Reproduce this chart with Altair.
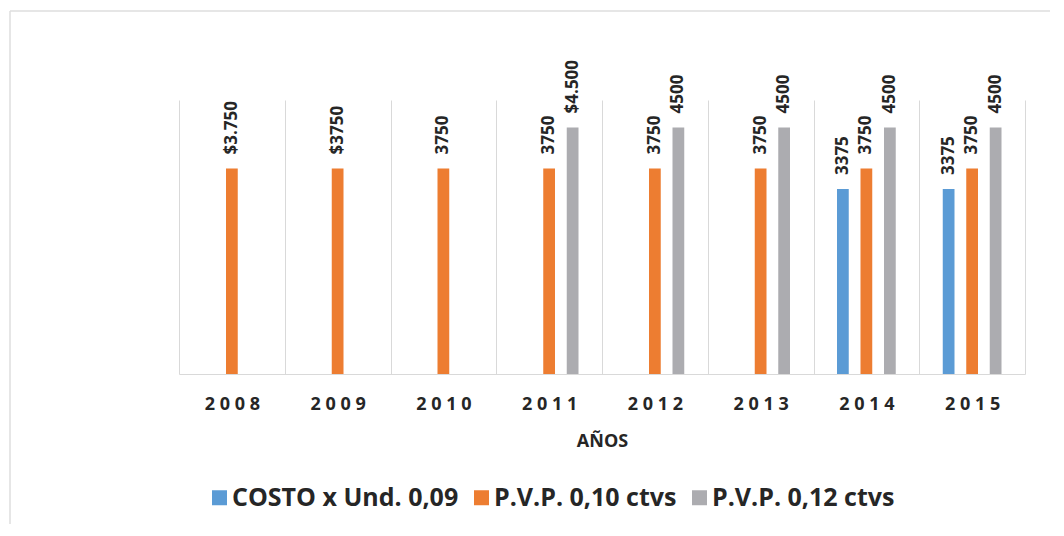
import altair as alt
import pandas as pd

years = ["2008", "2009", "2010", "2011", "2012", "2013", "2014", "2015"]
series = ["COSTO x Und. 0,09", "P.V.P. 0,10 ctvs", "P.V.P. 0,12 ctvs"]
colors = ["#5B9BD5", "#ED7D31", "#ACACB0"]

costo = [None, None, None, None, None, None, 3375, 3375]
pvp10 = [3750, 3750, 3750, 3750, 3750, 3750, 3750, 3750]
pvp12 = [None, None, None, 4500, 4500, 4500, 4500, 4500]

costo_lbl = ["", "", "", "", "", "", "3375", "3375"]
pvp10_lbl = ["$3.750", "$3750", "3750", "3750", "3750", "3750", "3750", "3750"]
pvp12_lbl = ["", "", "", "$4.500", "4500", "4500", "4500", "4500"]

rows = []
for s, vals, lbls in zip(series, [costo, pvp10, pvp12], [costo_lbl, pvp10_lbl, pvp12_lbl]):
    for y, v, l in zip(years, vals, lbls):
        if v is not None:
            rows.append({"year": y, "series": s, "value": v, "label": l})
df = pd.DataFrame(rows)

FONT = "Open Sans"

x = alt.X(
    "year:N",
    sort=years,
    scale=alt.Scale(paddingInner=0, paddingOuter=0),
    axis=alt.Axis(
        title="AÑOS",
        titleFont=FONT,
        titleFontSize=18,
        titleFontWeight="bold",
        titleColor="#262626",
        titlePadding=19,
        labelFont=FONT,
        labelFontSize=18,
        labelFontWeight="bold",
        labelColor="#262626",
        labelPadding=21,
        labelAngle=0,
        labelExpr="join(split(datum.label, ''), ' ')",
        ticks=False,
        grid=True,
        tickBand="extent",
        gridColor="#d9d9d9",
        gridWidth=1,
        domainColor="#d9d9d9",
        domainWidth=1,
    ),
)
xoff = alt.XOffset(
    "series:N",
    sort=series,
    scale=alt.Scale(domain=series, paddingInner=0.5, paddingOuter=1),
)
y = alt.Y("value:Q", scale=alt.Scale(domain=[0, 5000]), axis=None)
color = alt.Color(
    "series:N",
    sort=series,
    scale=alt.Scale(domain=series, range=colors),
    legend=alt.Legend(
        title=None,
        orient="none",
        legendX=28,
        legendY=385,
        direction="horizontal",
        symbolType="square",
        symbolSize=225,
        symbolStrokeWidth=0,
        symbolOpacity=1,
        labelFont=FONT,
        labelFontSize=25,
        labelFontWeight="bold",
        labelColor="#262626",
        labelLimit=400,
        columnPadding=10,
        symbolOffset=0,
        labelOffset=0,
    ),
)

base = alt.Chart(df)
bars = base.mark_bar().encode(x=x, xOffset=xoff, y=y, color=color)
text = base.mark_text(
    angle=270, align="left", baseline="middle", dx=14,
    font=FONT, fontSize=17, fontWeight="bold", color="#262626",
).encode(x=x, xOffset=xoff, y=y, text="label:N")

frame_df = pd.DataFrame({"k": [0]})
top_line = alt.Chart(frame_df).mark_rule(color="#dedede", strokeWidth=1.5).encode(
    x=alt.value(-169), x2=alt.value(900), y=alt.value(-89), y2=alt.value(-89)
)
left_line = alt.Chart(frame_df).mark_rule(color="#dedede", strokeWidth=1.5).encode(
    x=alt.value(-169), x2=alt.value(-169), y=alt.value(-89), y2=alt.value(500)
)

chart = alt.layer(top_line, left_line, bars, text).properties(
    width=846,
    height=274,
    autosize=alt.AutoSizeParams(type="none"),
    padding={"left": 171, "top": 92, "right": 25, "bottom": 150},
).configure_view(stroke=None)

chart.save("out.html", embed_options={"renderer": "svg", "actions": False})
